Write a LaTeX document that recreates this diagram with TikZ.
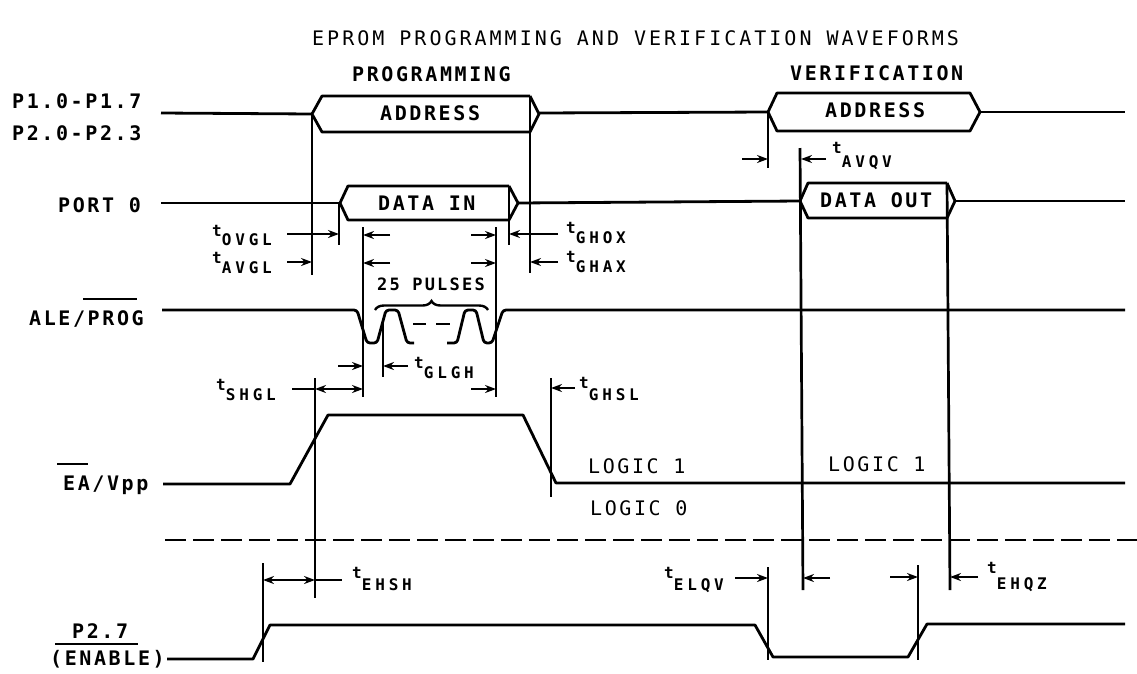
\documentclass[tikz,border=0pt]{standalone}
\usepackage{fontspec}
\usetikzlibrary{arrows.meta,decorations.pathreplacing}
\newfontfamily\pf[LetterSpace=13]{DejaVu Sans Mono}
\newfontfamily\tf[LetterSpace=15]{DejaVu Sans Mono}
\newfontfamily\subf[LetterSpace=24]{DejaVu Sans Mono}
\newcommand\tim[2][10]{{\subf\bfseries\fontsize{16}{16}\selectfont t\raisebox{-#1pt}{#2}}}
\tikzset{
  wave/.style={line width=2.8pt, line join=round},
  guide/.style={line width=2.7pt},
  tarr/.style={line width=2.5pt, -{Stealth[length=11pt,width=8pt]}},
  tboth/.style={line width=2.5pt, {Stealth[length=11pt,width=8pt]}-{Stealth[length=11pt,width=8pt]}},
  lbl/.style={font=\pf\bfseries\fontsize{20}{20}\selectfont, inner sep=0pt},
  lgc/.style={font=\pf\fontsize{20}{20}\selectfont, inner sep=0pt},
  ttl/.style={font=\tf\fontsize{20}{20}\selectfont, inner sep=0pt},
  tl/.style={inner sep=0pt},
}
\begin{document}
\begin{tikzpicture}[x=1pt,y=-1pt]
\useasboundingbox[fill=white] (0,0) rectangle (1137,673);

% title
\node[ttl, anchor=base west] (title) at (312,45) {EPROM PROGRAMMING AND VERIFICATION WAVEFORMS};
\node[lbl, anchor=base west] (prog) at (352,81) {PROGRAMMING};
\node[lbl, anchor=base west] (verif) at (790,80) {VERIFICATION};

% signal names
\node[lbl, anchor=base west] (p1) at (12,108) {P1.0-P1.7};
\node[lbl, anchor=base west] (p2) at (12,140) {P2.0-P2.3};
\node[lbl, anchor=base west] (port0) at (58,212) {PORT 0};
\node[lbl, anchor=base west] (ale) at (29,325) {ALE/PROG};
\draw[line width=2.2pt] (83,299) -- (137,299);
\node[lbl, anchor=base west] (ea) at (63,490) {EA/Vpp};
\draw[line width=2.2pt] (57,464) -- (88,464);
\node[lbl, anchor=base west] (p27) at (72,638) {P2.7};
\draw[line width=2.2pt] (55,644) -- (138,644);
\node[lbl, anchor=base west] (enable) at (50,665) {(ENABLE)};

% address bus
\draw[wave] (161,113) -- (312,114);
\draw[wave] (530,96) -- (322,96) -- (312,114) -- (322,132) -- (530,132);
\draw[wave] (530,96) -- (539,114) -- (530,132);
\draw[wave] (539,113) -- (768,112);
\draw[wave] (768,112) -- (777,93) -- (970,93) -- (980,112) -- (970,131) -- (777,131) -- cycle;
\draw[wave] (980,112) -- (1125,112);
\node[lbl, anchor=base west] (addr1) at (380,120) {ADDRESS};
\node[lbl, anchor=base west] (addr2) at (825,117) {ADDRESS};

% port 0
\draw[wave] (161,203) -- (340,203);
\draw[wave] (509,186) -- (348,186) -- (340,203) -- (348,220) -- (509,220);
\draw[wave] (509,186) -- (518,203) -- (509,220);
\draw[wave] (518,203) -- (800,201);
\draw[wave] (947,183) -- (808,183) -- (800,201) -- (808,218) -- (947,218);
\draw[wave] (947,183) -- (955,201) -- (947,218);
\draw[wave] (955,201) -- (1125,201);
\node[lbl, anchor=base west] (din) at (378,210) {DATA IN};
\node[lbl, anchor=base west] (dout) at (820,207) {DATA OUT};

% ALE/PROG
\draw[wave, rounded corners=3pt] (162,310) -- (357,310) -- (367,343) -- (377,343) -- (386,310) -- (398,310) -- (407,343) -- (414,343);
\draw[wave, rounded corners=3pt] (447,343) -- (457,343) -- (465,310) -- (476,310) -- (484,343) -- (492,343) -- (503,310) -- (1125,310);
\draw[wave] (413,324) -- (426,324);
\draw[wave] (436,324) -- (450,324);
\draw[line width=2.4pt, decorate, decoration={brace, amplitude=9pt}] (375,310) -- (488,310);
\node[lbl, font=\pf\bfseries\fontsize{17}{17}\selectfont, anchor=base west] (pulses) at (377,290) {25 PULSES};

% EA/Vpp
\draw[wave] (163,484) -- (290,484) -- (328,415) -- (523,415) -- (556,483) -- (1125,483);
\node[lgc, anchor=base west] (l1a) at (588,473) {LOGIC 1};
\node[lgc, anchor=base west] (l0) at (590,515) {LOGIC 0};
\node[lgc, anchor=base west] (l1b) at (828,471) {LOGIC 1};
\draw[line width=2.5pt, dash pattern=on 21pt off 7pt] (165,540) -- (1137,540);

% P2.7 enable
\draw[wave] (167,659) -- (253,659) -- (270,625) -- (755,625) -- (773,657) -- (908,657) -- (927,624) -- (1125,624);

% vertical guides
\draw[guide] (312,114) -- (312,275);
\draw[guide] (339,203) -- (339,245);
\draw[guide] (363,227) -- (363,397);
\draw[guide] (383,320) -- (383,377);
\draw[guide] (496,227) -- (496,397);
\draw[guide] (509,186) -- (509,245);
\draw[guide] (530,96) -- (530,273);
\draw[guide] (315,378) -- (315,598);
\draw[guide] (263,563) -- (263,662);
\draw[guide] (551,378) -- (551,497);
\draw[guide] (768,112) -- (768,168);
\draw[guide] (800,148) -- (803,590);
\draw[guide] (947,183) -- (950,590);
\draw[guide] (768,567) -- (768,660);
\draw[guide] (918,565) -- (918,660);

% timing labels
\node[tl, anchor=base west] (tovgl) at (212,236) {\tim[9]{OVGL}};
\node[tl, anchor=base west] (tavgl) at (212,263) {\tim[10]{AVGL}};
\node[tl, anchor=base west] (tghox) at (566,233) {\tim[10]{GHOX}};
\node[tl, anchor=base west] (tghax) at (566,262) {\tim[10]{GHAX}};
\node[tl, anchor=base west] (tshgl) at (216,390) {\tim[10]{SHGL}};
\node[tl, anchor=base west] (tglgh) at (414,368) {\tim[10]{GLGH}};
\node[tl, anchor=base west] (tghsl) at (579,388) {\tim[12]{GHSL}};
\node[tl, anchor=base west] (tavqv) at (832,153) {\tim[14]{AVQV}};
\node[tl, anchor=base west] (tehsh) at (352,578) {\tim[12]{EHSH}};
\node[tl, anchor=base west] (telqv) at (664,578) {\tim[12]{ELQV}};
\node[tl, anchor=base west] (tehqz) at (987,573) {\tim[16]{EHQZ}};

% timing arrows
\draw[tarr] (287,234) -- (339,234);
\draw[tarr] (390,235) -- (363,235);
\draw[tarr] (287,262) -- (312,262);
\draw[tarr] (390,263) -- (363,263);
\draw[tarr] (471,235) -- (496,235);
\draw[tarr] (558,234) -- (509,234);
\draw[tarr] (471,263) -- (496,263);
\draw[tarr] (558,262) -- (530,262);
\draw[line width=2.5pt] (292,389) -- (315,389);
\draw[tboth] (315,389) -- (363,389);
\draw[tarr] (338,366) -- (363,366);
\draw[tarr] (408,366) -- (383,366);
\draw[tarr] (471,389) -- (496,389);
\draw[tarr] (575,388) -- (551,388);
\draw[tarr] (742,159) -- (768,159);
\draw[tarr] (826,159) -- (801,159);
\draw[tboth] (263,580) -- (315,580);
\draw[line width=2.5pt] (315,580) -- (342,580);
\draw[tarr] (735,578) -- (768,578);
\draw[tarr] (830,578) -- (803,578);
\draw[tarr] (890,577) -- (918,577);
\draw[tarr] (978,577) -- (950,577);
\end{tikzpicture}
\end{document}
